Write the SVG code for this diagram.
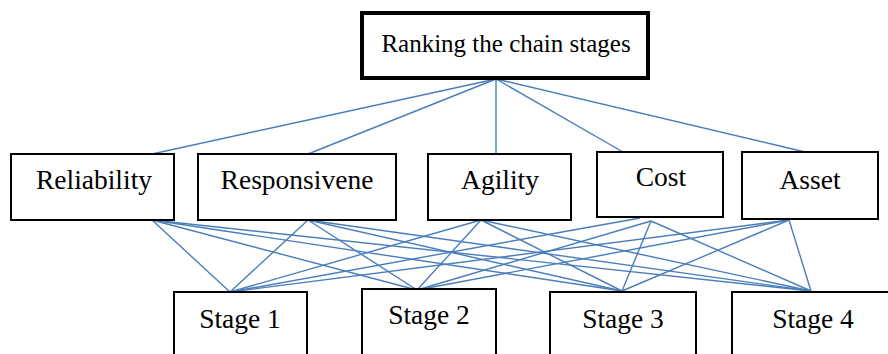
<svg xmlns="http://www.w3.org/2000/svg" width="888" height="354" viewBox="0 0 888 354">
<style>
.box{fill:#fff;stroke:#000;stroke-width:2}
.top{fill:#fff;stroke:#000;stroke-width:4}
text{font-family:'Liberation Serif','Times New Roman',serif;font-size:27.5px;fill:#000;text-anchor:middle}
text.g{font-size:25px}
.c line{stroke:#4a7ebb;stroke-width:1.4}
</style>
<rect width="888" height="354" fill="#fff"/>
<g class="c" id="connectors">
<line x1="496" y1="79" x2="152" y2="154"/>
<line x1="496" y1="79" x2="308" y2="154"/>
<line x1="496" y1="79" x2="496" y2="154"/>
<line x1="496" y1="79" x2="623" y2="152"/>
<line x1="496" y1="79" x2="805" y2="152"/>
<line x1="152" y1="220" x2="230" y2="292"/>
<line x1="152" y1="220" x2="417" y2="290"/>
<line x1="152" y1="220" x2="622" y2="291"/>
<line x1="152" y1="220" x2="811" y2="291"/>
<line x1="308" y1="220" x2="230" y2="292"/>
<line x1="308" y1="220" x2="417" y2="290"/>
<line x1="308" y1="220" x2="622" y2="291"/>
<line x1="308" y1="220" x2="811" y2="291"/>
<line x1="481" y1="220" x2="230" y2="292"/>
<line x1="481" y1="220" x2="417" y2="290"/>
<line x1="481" y1="220" x2="622" y2="291"/>
<line x1="481" y1="220" x2="811" y2="291"/>
<line x1="640" y1="218" x2="230" y2="292"/>
<line x1="651" y1="221" x2="417" y2="290"/>
<line x1="651" y1="221" x2="622" y2="291"/>
<line x1="651" y1="221" x2="811" y2="291"/>
<line x1="789" y1="220" x2="230" y2="292"/>
<line x1="789" y1="220" x2="417" y2="290"/>
<line x1="789" y1="220" x2="622" y2="291"/>
<line x1="789" y1="220" x2="811" y2="291"/>
</g>
<g id="goal"><rect class="top" x="362" y="13" width="286" height="65"/><text class="g" x="506" y="52">Ranking the chain stages</text></g>
<g id="reliability"><rect class="box" x="11" y="154" width="163" height="66"/><text x="94" y="189">Reliability</text></g>
<g id="responsiveness"><rect class="box" x="198" y="154" width="198" height="66"/><text x="297" y="189">Responsivene</text></g>
<g id="agility"><rect class="box" x="428" y="154" width="143" height="66"/><text x="500" y="189">Agility</text></g>
<g id="cost"><rect class="box" x="597" y="152" width="126" height="65"/><text x="661" y="186">Cost</text></g>
<g id="asset"><rect class="box" x="742" y="152" width="136" height="67"/><text x="810" y="189">Asset</text></g>
<g id="stage1"><rect class="box" x="174" y="292" width="133" height="70"/><text x="240" y="328">Stage 1</text></g>
<g id="stage2"><rect class="box" x="362" y="289" width="134" height="73"/><text x="429" y="324">Stage 2</text></g>
<g id="stage3"><rect class="box" x="550" y="292" width="146" height="70"/><text x="623" y="328">Stage 3</text></g>
<g id="stage4"><rect class="box" x="732" y="292" width="160" height="70"/><text x="813" y="328">Stage 4</text></g>
</svg>
